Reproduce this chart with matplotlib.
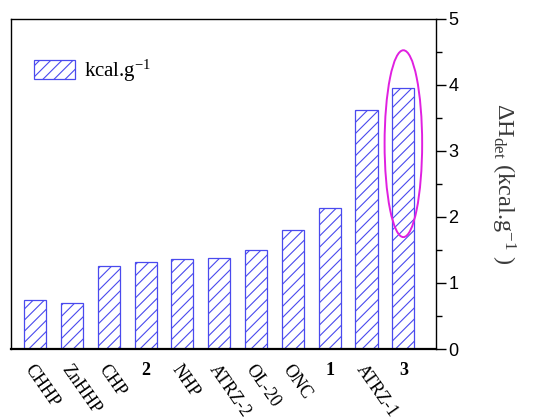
import numpy as np
import matplotlib
matplotlib.use('Agg')
import matplotlib.pyplot as plt
from matplotlib.patches import Ellipse

names = ['CHHP', 'ZnHHP', 'CHP', '2', 'NHP', 'ATRZ-2', 'OL-20', 'ONC', '1', 'ATRZ-1', '3']
dh_det = [0.75, 0.69, 1.25, 1.32, 1.37, 1.38, 1.50, 1.80, 2.13, 3.62, 3.95]
bold_names = ['1', '2', '3']

plt.rcParams['mathtext.fontset'] = 'custom'
plt.rcParams['mathtext.rm'] = 'Liberation Serif'
plt.rcParams['mathtext.it'] = 'Liberation Serif:italic'
plt.rcParams['mathtext.default'] = 'regular'
plt.rcParams['hatch.linewidth'] = 0.8

blue = '#4a4aee'
fig = plt.figure(figsize=(5.4, 4.2), dpi=100)
ax = fig.add_axes([0.020, 0.169, 0.787, 0.786])

x = np.arange(len(names))
ax.bar(x, dh_det, width=0.6, color='white', edgecolor=blue, hatch='///',
       linewidth=0.9, label='kcal.g$^{-1}$')

ax.set_xlim(-0.66, 10.88)
ax.set_ylim(0, 5)

# highlight compound 3
ell = Ellipse((10, 3.11), 1.02, 2.83, fill=False, edgecolor='#e020e0', linewidth=1.4)
ax.add_patch(ell)

ax.yaxis.tick_right()
ax.yaxis.set_label_position('right')
ax.set_yticks(np.arange(0, 6, 1))
ax.set_yticks(np.arange(0.5, 5, 1), minor=True)
ax.tick_params(axis='y', which='major', direction='out', length=7, width=1, labelsize=13, pad=2)
ax.tick_params(axis='y', which='minor', direction='out', length=4, width=1)
for lab in ax.get_yticklabels():
    lab.set_family('Liberation Sans')
ax.tick_params(axis='x', length=0, pad=9)
ax.set_xticks(x)
ax.set_xticklabels(names, rotation=-55, ha='left', rotation_mode='anchor',
                   family='Liberation Serif', fontsize=13)
for lab in ax.get_xticklabels():
    if lab.get_text() in bold_names:
        lab.set_fontweight('bold')
        lab.set_rotation(0)
        lab.set_ha('center')
        lab.set_va('top')

for s in ['left', 'top', 'right']:
    ax.spines[s].set_linewidth(1.0)
ax.spines['bottom'].set_linewidth(1.6)

ax.set_ylabel('$\\Delta$H$_{det}$ (kcal.g$^{-1}$ )', rotation=-90, labelpad=42,
              family='Liberation Serif', fontsize=17.5, color='#3a3a3a')

leg = ax.legend(loc='upper left', bbox_to_anchor=(0.01, 0.94), frameon=False,
                prop={'family': 'Liberation Serif', 'size': 15},
                handlelength=2.0, handleheight=1.0, handletextpad=0.4)

fig.savefig('out.png', dpi=100)
